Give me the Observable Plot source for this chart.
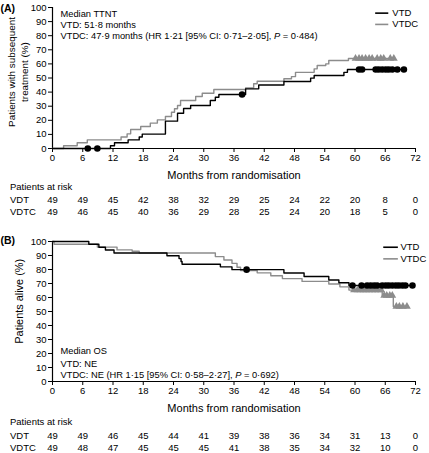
<!DOCTYPE html>
<html><head><meta charset="utf-8">
<script src="https://cdn.jsdelivr.net/npm/d3@7"></script>
<script src="https://cdn.jsdelivr.net/npm/@observablehq/plot@0.6"></script>
<style>
body{margin:0;background:#fff;}
#chart svg{display:block;}
</style></head><body><div id="chart"></div>
<script>
// ---------- data ----------
const months = [0, 6, 12, 18, 24, 30, 36, 42, 48, 54, 60, 66, 72];
const pctTicks = [0, 10, 20, 30, 40, 50, 60, 70, 80, 90, 100];

// Panel A: patients with subsequent treatment (%)
const ttntVtdTime = [0, 11.5, 12.3, 15.0, 17.2, 17.8, 22.4, 24.8, 26.0, 27.4, 31.3, 32.3, 33.0, 38.3, 40.9, 45.9, 51.2, 51.9, 57.8, 58.5, 69.7];
const ttntVtdPct  = [0, 2.0, 4.1, 6.1, 8.2, 10.2, 19.4, 25.0, 28.4, 30.5, 34.0, 36.4, 38.3, 42.3, 45.0, 47.5, 49.9, 51.8, 54.0, 56.0, 56.0];
const ttntVtdcTime = [0, 2.2, 4.9, 6.9, 13.6, 14.8, 15.5, 17.5, 19.4, 20.8, 22.4, 23.6, 24.2, 24.8, 25.4, 28.4, 29.7, 32.0, 38.3, 39.9, 40.6, 45.9, 47.4, 48.2, 51.9, 52.5, 54.2, 54.8, 58.7, 67.7];
const ttntVtdcPct  = [0, 2.0, 4.1, 6.1, 8.2, 10.4, 13.5, 15.6, 18.0, 20.3, 22.7, 25.7, 28.2, 30.5, 34.0, 36.9, 39.2, 41.8, 43.0, 45.9, 47.7, 49.5, 51.0, 54.0, 56.5, 58.9, 60.0, 62.4, 63.8, 63.8];
const ttntVtdCensored  = [7.0, 8.9, 37.6, 60.8, 61.4, 64.1, 64.7, 65.4, 66.1, 66.7, 67.4, 68.4, 69.7];
const ttntVtdcCensored = [60.1, 60.8, 61.4, 62.1, 62.8, 63.4, 64.4, 65.1, 65.7, 67.0, 67.7];
const riskA_VDT  = [49, 49, 45, 42, 38, 32, 29, 25, 24, 22, 20, 8, 0];
const riskA_VDTC = [49, 46, 45, 40, 36, 29, 28, 25, 24, 20, 18, 5, 0];

// Panel B: patients alive (%)
const osVtdTime = [0, 7.2, 9.2, 10.5, 12.2, 22.7, 25.1, 25.5, 25.7, 33.3, 35.6, 45.9, 49.9, 54.8, 56.8, 58.8, 71.4];
const osVtdPct  = [100, 98.0, 95.9, 93.9, 91.8, 89.8, 87.8, 85.7, 83.7, 81.9, 79.9, 77.5, 75.0, 72.5, 70.5, 68.6, 68.6];
const osVtdcTime = [0, 0.3, 8.9, 12.8, 15.8, 17.2, 32.3, 34.0, 35.6, 36.6, 37.3, 40.6, 43.3, 45.6, 49.5, 54.8, 57.0, 58.8, 65.4, 67.6, 70.5];
const osVtdcPct  = [100, 98.0, 96.0, 94.0, 93.0, 91.8, 89.2, 86.8, 84.4, 81.6, 79.3, 77.6, 75.5, 73.5, 71.5, 69.6, 67.6, 65.3, 61.5, 53.5, 53.5];
const osVtdCensored  = [38.5, 59.5, 61.3, 62.4, 63.1, 63.8, 64.4, 65.4, 66.1, 66.7, 67.4, 68.1, 68.7, 69.4, 70.0, 71.4];
const osVtdcCensored = [59.8, 60.5, 61.1, 61.7, 62.2, 62.8, 63.4, 64.0, 64.6, 65.2, 65.8, 66.3, 66.9, 67.4, 68.2, 68.8, 69.5, 70.3];
const riskB_VDT  = [49, 49, 46, 45, 44, 41, 39, 38, 36, 34, 31, 13, 0];
const riskB_VDTC = [49, 48, 47, 45, 45, 45, 41, 38, 35, 34, 32, 10, 0];

const seriesNames = ["VTD", "VTDC"];
const riskRowNames = ["VDT", "VDTC"];

// ---------- helpers ----------
const FONT = "'Liberation Sans', Arial, Helvetica, sans-serif";
const GRAY = "#8c8c8c";
const pts = (times, vals) => times.map((t, i) => ({t, v: vals[i]}));
const at = (times, vals, t) => { let v = vals[0]; for (let i = 0; i < times.length; i++) if (times[i] <= t) v = vals[i]; return v; };
const cens = (c, times, vals) => c.map(t => ({t, v: at(times, vals, t)}));

function italicP(svg) {
  d3.select(svg).selectAll("text").each(function() {
    const s = this.textContent;
    const i = s.indexOf("P = ");
    if (i >= 0 && this.childElementCount === 0) {
      this.textContent = "";
      const sel = d3.select(this);
      sel.append("tspan").text(s.slice(0, i));
      sel.append("tspan").attr("font-style", "italic").text("P");
      sel.append("tspan").text(s.slice(i + 1));
    }
  });
}

function panel(cfg) {
  const risk = months.map((m, i) => ({m, a: cfg.riskA[i], b: cfg.riskB[i]}));
  const svg = Plot.plot({
    width: 429, height: cfg.height,
    marginTop: cfg.mt, marginBottom: cfg.mb, marginLeft: 52, marginRight: 14,
    style: {fontFamily: FONT, fontSize: "9.5px", color: "#000", background: "#fff"},
    x: {domain: [0, 72], ticks: months, tickSize: 4, tickPadding: 2, label: null},
    y: {domain: [0, 100], ticks: pctTicks, tickSize: 4, tickPadding: 2, label: null},
    marks: [
      Plot.ruleX([0], {strokeWidth: 1.2}),
      Plot.ruleY([0], {strokeWidth: 1.2}),
      Plot.line(pts(cfg.grayT, cfg.grayV), {x: "t", y: "v", curve: "step-after", stroke: GRAY, strokeWidth: 1.4}),
      Plot.line(pts(cfg.blackT, cfg.blackV), {x: "t", y: "v", curve: "step-after", stroke: "#000", strokeWidth: 1.4}),
      Plot.dot(cens(cfg.grayC, cfg.grayT, cfg.grayV), {x: "t", y: "v", symbol: "triangle", r: 2.9, fill: GRAY}),
      Plot.dot(cens(cfg.blackC, cfg.blackT, cfg.blackV), {x: "t", y: "v", r: 3.3, fill: "#000"}),
      // legend
      Plot.ruleY([cfg.legY[0]], {x1: cfg.legX[0], x2: cfg.legX[1], stroke: "#000", strokeWidth: 1.6}),
      Plot.ruleY([cfg.legY[1]], {x1: cfg.legX[0], x2: cfg.legX[1], stroke: GRAY, strokeWidth: 1.6}),
      Plot.text([0, 1], {x: cfg.legX[2], y: i => cfg.legY[i], text: i => seriesNames[i], textAnchor: "start", lineAnchor: "middle", fontSize: 9.5}),
      // panel tag
      Plot.text([cfg.tag], {frameAnchor: "top-left", dx: -52, dy: cfg.tagDy, textAnchor: "start", lineAnchor: "middle", fontWeight: "bold", fontSize: 10.5}),
      // y title
      Plot.text([cfg.ytitle], {frameAnchor: "left", rotate: -90, dx: cfg.ytDx, dy: cfg.ytDy, textAnchor: "middle", lineAnchor: "middle", fontSize: cfg.ytSize, lineHeight: cfg.ytLine}),
      // annotation lines
      ...cfg.notes.map((n, i) => Plot.text([n], {frameAnchor: cfg.noteAnchor, dx: 8, dy: cfg.noteDy[i], textAnchor: "start", lineAnchor: "middle", fontSize: 9.3})),
      // x title
      Plot.text(["Months from randomisation"], {frameAnchor: "bottom", dy: 27, lineAnchor: "middle", fontSize: 11}),
      // risk table
      Plot.text(["Patients at risk"], {frameAnchor: "bottom-left", dx: -42.5, dy: cfg.riskDy[0], textAnchor: "start", lineAnchor: "middle"}),
      Plot.text([riskRowNames[0]], {frameAnchor: "bottom-left", dx: -42.5, dy: cfg.riskDy[1], textAnchor: "start", lineAnchor: "middle"}),
      Plot.text([riskRowNames[1]], {frameAnchor: "bottom-left", dx: -42.5, dy: cfg.riskDy[2], textAnchor: "start", lineAnchor: "middle"}),
      Plot.text(risk, {x: "m", text: "a", frameAnchor: "bottom", dy: cfg.riskDy[1], lineAnchor: "middle"}),
      Plot.text(risk, {x: "m", text: "b", frameAnchor: "bottom", dy: cfg.riskDy[2], lineAnchor: "middle"})
    ]
  });
  italicP(svg);
  return svg;
}

const chart = document.getElementById("chart");
chart.appendChild(panel({
  height: 226, mt: 7, mb: 78,
  blackT: ttntVtdTime, blackV: ttntVtdPct, grayT: ttntVtdcTime, grayV: ttntVtdcPct,
  blackC: ttntVtdCensored, grayC: ttntVtdcCensored,
  riskA: riskA_VDT, riskB: riskA_VDTC,
  legX: [64.1, 66.7, 67.4], legY: [96, 88],
  tag: "(A)", tagDy: 1.3,
  ytitle: "Patients with subsequent\ntreatment (%)", ytDx: -35.3, ytDy: -6, ytSize: 9.9, ytLine: 1.35,
  notes: ["Median TTNT", "VTD: 51·8 months", "VTDC: 47·9 months (HR 1·21 [95% CI: 0·71–2·05], P = 0·484)"],
  noteAnchor: "top-left", noteDy: [6.3, 17.5, 29],
  riskDy: [38.7, 51.3, 63.7]
}));
chart.appendChild(panel({
  height: 227, mt: 15, mb: 72,
  blackT: osVtdTime, blackV: osVtdPct, grayT: osVtdcTime, grayV: osVtdcPct,
  blackC: osVtdCensored, grayC: osVtdcCensored,
  riskA: riskB_VDT, riskB: riskB_VDTC,
  legX: [65.7, 68.6, 69.0], legY: [95.9, 87.6],
  tag: "(B)", tagDy: -1,
  ytitle: "Patients alive (%)", ytDx: -33.7, ytDy: -10.2, ytSize: 10.9, ytLine: 1.2,
  notes: ["Median OS", "VTD: NE", "VTDC: NE (HR 1·15 [95% CI: 0·58–2·27], P = 0·692)"],
  noteAnchor: "bottom-left", noteDy: [-30, -17.7, -6],
  riskDy: [40.7, 54, 66.7]
}));
</script></body></html>
